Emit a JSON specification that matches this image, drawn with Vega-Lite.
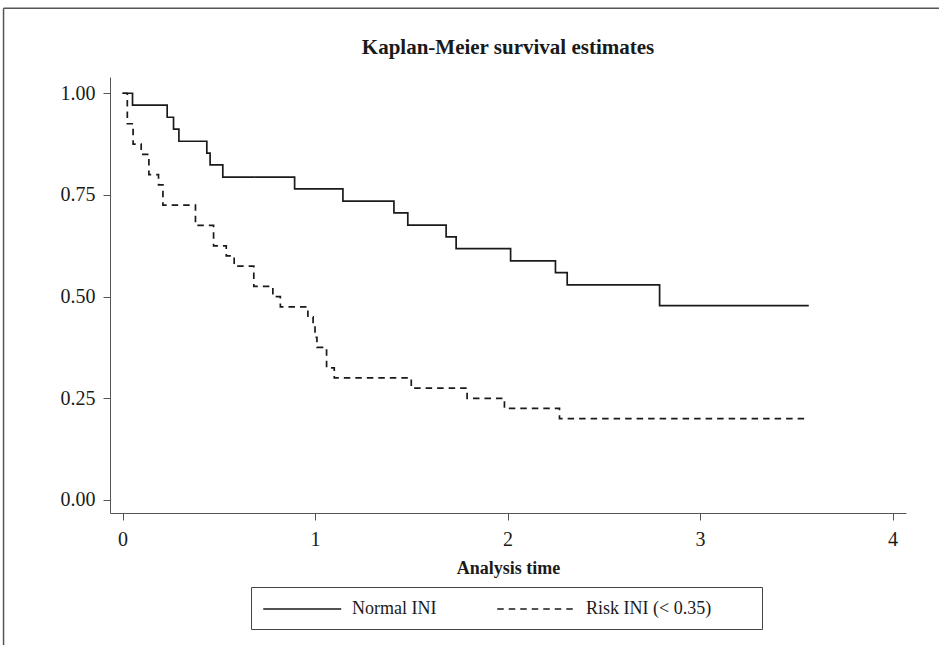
{
  "$schema": "https://vega.github.io/schema/vega-lite/v6.json",
  "autosize": {"type": "none"},
  "padding": {"left": 110, "top": 77, "right": 33, "bottom": 132},
  "width": 796,
  "height": 436,
  "background": "white",
  "title": {"text": "Kaplan-Meier survival estimates", "font": "Liberation Serif", "fontSize": 21, "fontWeight": "bold", "color": "#1a1a1a", "anchor": "middle", "frame": "group", "offset": -50},
  "config": {
    "view": {"stroke": null},
    "axis": {"grid": false, "domainColor": "#555", "tickColor": "#555", "tickSize": 7, "labelFont": "Liberation Serif", "labelFontSize": 20, "labelColor": "#1a1a1a", "titleFont": "Liberation Serif", "titleFontSize": 18, "titleFontWeight": "bold", "titleColor": "#1a1a1a"},
    "legend": {"labelFont": "Liberation Serif", "labelFontSize": 18, "labelColor": "#1a1a1a"}
  },
  "datasets": {
    "km": [
      {"group": "Normal INI", "t": 0, "S": 1.0},
      {"group": "Normal INI", "t": 0.052, "S": 0.971},
      {"group": "Normal INI", "t": 0.232, "S": 0.941},
      {"group": "Normal INI", "t": 0.265, "S": 0.912},
      {"group": "Normal INI", "t": 0.293, "S": 0.882},
      {"group": "Normal INI", "t": 0.438, "S": 0.853},
      {"group": "Normal INI", "t": 0.455, "S": 0.824},
      {"group": "Normal INI", "t": 0.521, "S": 0.794},
      {"group": "Normal INI", "t": 0.894, "S": 0.765},
      {"group": "Normal INI", "t": 1.145, "S": 0.735},
      {"group": "Normal INI", "t": 1.41, "S": 0.706},
      {"group": "Normal INI", "t": 1.482, "S": 0.676},
      {"group": "Normal INI", "t": 1.681, "S": 0.647},
      {"group": "Normal INI", "t": 1.733, "S": 0.618},
      {"group": "Normal INI", "t": 2.016, "S": 0.588},
      {"group": "Normal INI", "t": 2.249, "S": 0.559},
      {"group": "Normal INI", "t": 2.31, "S": 0.529},
      {"group": "Normal INI", "t": 2.79, "S": 0.478},
      {"group": "Normal INI", "t": 3.565, "S": 0.478},
      {"group": "Risk INI (< 0.35)", "t": 0, "S": 1.0},
      {"group": "Risk INI (< 0.35)", "t": 0.025, "S": 0.925},
      {"group": "Risk INI (< 0.35)", "t": 0.055, "S": 0.875},
      {"group": "Risk INI (< 0.35)", "t": 0.097, "S": 0.85},
      {"group": "Risk INI (< 0.35)", "t": 0.137, "S": 0.8},
      {"group": "Risk INI (< 0.35)", "t": 0.187, "S": 0.775},
      {"group": "Risk INI (< 0.35)", "t": 0.21, "S": 0.725},
      {"group": "Risk INI (< 0.35)", "t": 0.379, "S": 0.675},
      {"group": "Risk INI (< 0.35)", "t": 0.473, "S": 0.625},
      {"group": "Risk INI (< 0.35)", "t": 0.539, "S": 0.6},
      {"group": "Risk INI (< 0.35)", "t": 0.58, "S": 0.575},
      {"group": "Risk INI (< 0.35)", "t": 0.682, "S": 0.525},
      {"group": "Risk INI (< 0.35)", "t": 0.781, "S": 0.5},
      {"group": "Risk INI (< 0.35)", "t": 0.82, "S": 0.475},
      {"group": "Risk INI (< 0.35)", "t": 0.963, "S": 0.45},
      {"group": "Risk INI (< 0.35)", "t": 0.99, "S": 0.425},
      {"group": "Risk INI (< 0.35)", "t": 1.0, "S": 0.4},
      {"group": "Risk INI (< 0.35)", "t": 1.01, "S": 0.375},
      {"group": "Risk INI (< 0.35)", "t": 1.06, "S": 0.325},
      {"group": "Risk INI (< 0.35)", "t": 1.1, "S": 0.3},
      {"group": "Risk INI (< 0.35)", "t": 1.5, "S": 0.275},
      {"group": "Risk INI (< 0.35)", "t": 1.79, "S": 0.25},
      {"group": "Risk INI (< 0.35)", "t": 1.984, "S": 0.225},
      {"group": "Risk INI (< 0.35)", "t": 2.27, "S": 0.2},
      {"group": "Risk INI (< 0.35)", "t": 3.56, "S": 0.2}
    ]
  },
  "layer": [
    {
      "data": {"name": "km"},
      "mark": {"type": "line", "interpolate": "step-after", "color": "#1a1a1a", "strokeWidth": 1.7},
      "encoding": {
        "x": {"field": "t", "type": "quantitative", "scale": {"domain": [-0.065, 4.07], "nice": false, "zero": false},
              "axis": {"values": [0, 1, 2, 3, 4], "format": "d", "title": "Analysis time", "labelPadding": 9, "titlePadding": 10}},
        "y": {"field": "S", "type": "quantitative", "scale": {"domain": [-0.032, 1.04], "nice": false, "zero": false},
              "axis": {"values": [0, 0.25, 0.5, 0.75, 1], "format": ".2f", "title": null, "labelPadding": 8}},
        "strokeDash": {"field": "group", "type": "nominal",
          "scale": {"domain": ["Normal INI", "Risk INI (< 0.35)"], "range": [[1, 0], [6.5, 5]]},
          "legend": {"title": null, "orient": "none", "legendX": 141, "legendY": 510, "direction": "horizontal",
                     "symbolType": "M-1,0H7", "symbolSize": 380, "symbolStrokeWidth": 1.7, "symbolStrokeColor": "#1a1a1a",
                     "strokeColor": "#444", "padding": 11, "labelOffset": 68, "columnPadding": 56, "labelLimit": 0,
                     "labelExpr": "indexof(datum.label, 'Risk') >= 0 ? datum.label + '\u2800\u2800\u2800\u00a0' : datum.label"}}
      }
    },
    {
      "data": {"values": [{}]},
      "mark": {"type": "rule", "color": "#555", "strokeWidth": 1.5},
      "encoding": {"x": {"datum": -0.618}, "y": {"datum": 1.2088}, "y2": {"datum": -0.36}}
    },
    {
      "data": {"values": [{}]},
      "mark": {"type": "rule", "color": "#555", "strokeWidth": 1.5},
      "encoding": {"x": {"datum": -0.618}, "x2": {"datum": 4.25}, "y": {"datum": 1.2088}}
    }
  ]
}
